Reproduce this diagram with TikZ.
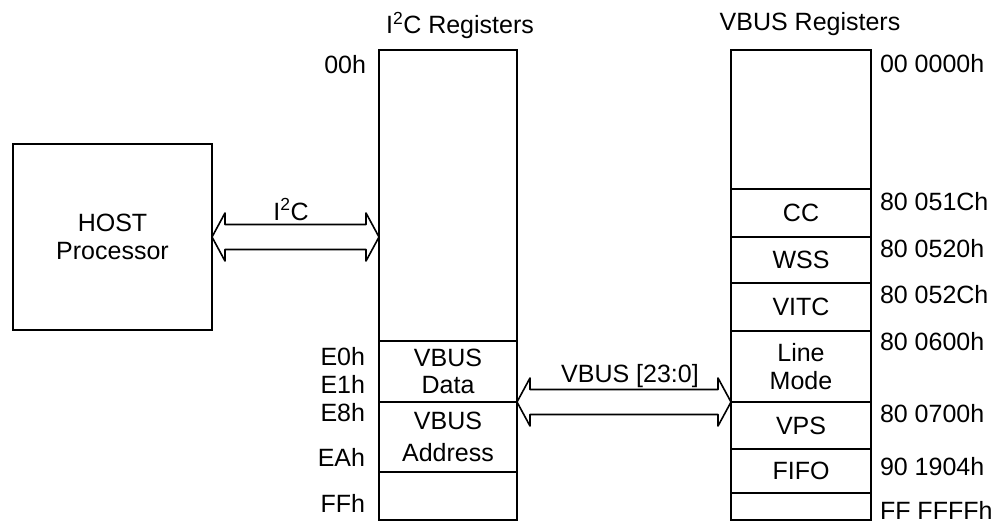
\documentclass[tikz,border=0pt]{standalone}
\usepackage{fontspec}
\setmainfont{Liberation Sans}
\usetikzlibrary{calc}
\newcommand\hollowarrow[2]{%
  \draw[fat] (#1) -- ($(#1)+(13,-24)$) -- ($(#1)+(13,-12.5)$) -- ($(#2)+(-13,-12.5)$)
    -- ($(#2)+(-13,-24)$) -- (#2) -- ($(#2)+(-13,24)$) -- ($(#2)+(-13,12.5)$)
    -- ($(#1)+(13,12.5)$) -- ($(#1)+(13,24)$) -- cycle;}
\begin{document}
\begin{tikzpicture}[x=1pt,y=-1pt,
  every node/.style={font=\fontsize{25}{27.5}\selectfont, inner sep=0pt, outer sep=0pt},
  cell/.style={draw, line width=1.6pt, anchor=north west, align=center, minimum width=#1},
  cell/.default=140,
  rlbl/.style={anchor=base west},
  llbl/.style={anchor=base east},
  clbl/.style={anchor=base},
  fat/.style={draw, line width=1.6pt, line join=round}]
\useasboundingbox (0,0) rectangle (1000,527);

% HOST
\node[cell=199, minimum height=186] (host) at (13,144) {HOST\\Processor};

% I2C register column
\node[cell=138, minimum height=291] (itop) at (379,50) {};
\node[cell=138, minimum height=61] (vdata) at (379,341) {VBUS\\Data};
\node[cell=138, minimum height=70] (vaddr) at (379,402) {VBUS\\[5pt]Address};
\node[cell=138, minimum height=48] (ilast) at (379,472) {};

% VBUS register column
\node[cell=140, minimum height=139] (vtop) at (731,50) {};
\node[cell=140, minimum height=48] (cc) at (731,189) {CC};
\node[cell=140, minimum height=46] (wss) at (731,237) {WSS};
\node[cell=140, minimum height=48] (vitc) at (731,283) {VITC};
\node[cell=140, minimum height=71] (lmode) at (731,331) {Line\\Mode};
\node[cell=140, minimum height=47] (vps) at (731,402) {VPS};
\node[cell=140, minimum height=44] (fifo) at (731,449) {FIFO};
\node[cell=140, minimum height=27] (vlast) at (731,493) {};

% titles
\node[clbl] (t1) at (460,34) {I\textsuperscript{2}C Registers};
\node[clbl] (t2) at (810,31) {VBUS Registers};

% I2C addresses
\node[llbl] (a00) at (366,73) {00h};
\node[llbl] (ae0) at (365,365) {E0h};
\node[llbl] (ae1) at (365,393) {E1h};
\node[llbl] (ae8) at (365,421) {E8h};
\node[llbl] (aea) at (365,466) {EAh};
\node[llbl] (aff) at (365,512) {FFh};

% VBUS addresses
\node[rlbl] (b0) at (880,72) {00 0000h};
\node[rlbl] (b1) at (880,210) {80 051Ch};
\node[rlbl] (b2) at (880,257) {80 0520h};
\node[rlbl] (b3) at (880,303) {80 052Ch};
\node[rlbl] (b4) at (880,350) {80 0600h};
\node[rlbl] (b5) at (880,422) {80 0700h};
\node[rlbl] (b6) at (880,475) {90 1904h};
\node[rlbl] (b7) at (880,519) {FF FFFFh};

% connectors
\coordinate (hostR) at (host.east);
\coordinate (i2cL) at (itop.west |- host.east);
\hollowarrow{hostR}{i2cL}
\node[clbl] (li2c) at (291,220) {I\textsuperscript{2}C};

\coordinate (dataR) at (vdata.south east);
\coordinate (modeL) at (lmode.south west);
\hollowarrow{dataR}{modeL}
\node[clbl] (lvbus) at (630,382) {VBUS [23:0]};
\end{tikzpicture}
\end{document}
